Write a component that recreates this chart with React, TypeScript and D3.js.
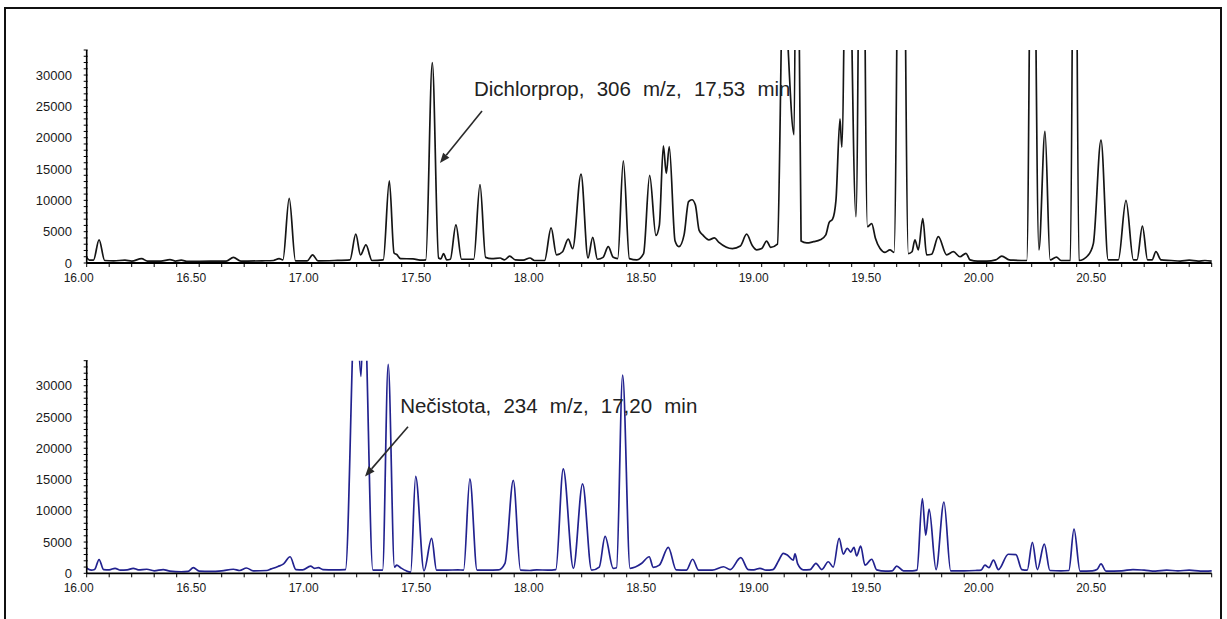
import React from 'react';
import * as d3 from 'd3';

// ---- data ----
const timeLabels = [16.0, 16.5, 17.0, 17.5, 18.0, 18.5, 19.0, 19.5, 20.0, 20.5];
const intensityLabels = [0, 5000, 10000, 15000, 20000, 25000, 30000];

// Chromatogram 1 (306 m/z) : [time min, abundance]
const topTrace: [number, number][] = [
  [16.0, 900], [16.012, 450], [16.03, 450], [16.055, 3700], [16.08, 400], [16.12, 350], [16.17, 450],
  [16.2, 300], [16.244, 700], [16.27, 300], [16.33, 300], [16.37, 550], [16.395, 300], [16.42, 450],
  [16.45, 250], [16.55, 300], [16.62, 300], [16.652, 900], [16.685, 300], [16.78, 350], [16.83, 400],
  [16.855, 700], [16.872, 500], [16.9, 10300], [16.928, 350], [16.98, 350], [17.004, 1300], [17.028, 350],
  [17.1, 400], [17.17, 500], [17.196, 4600], [17.217, 1300], [17.241, 2900], [17.268, 400], [17.318, 500],
  [17.345, 13100], [17.366, 1600], [17.378, 1350], [17.395, 700], [17.45, 650], [17.49, 450], [17.507, 500],
  [17.536, 32000], [17.564, 800], [17.574, 650], [17.586, 1500], [17.6, 500], [17.616, 600], [17.641, 6100],
  [17.666, 600], [17.72, 600], [17.748, 12500], [17.773, 900], [17.8, 700], [17.837, 800], [17.857, 500],
  [17.88, 1100], [17.905, 500], [17.94, 450], [17.97, 800], [17.99, 400], [18.035, 400], [18.064, 5600],
  [18.088, 1300], [18.115, 1800], [18.14, 3800], [18.16, 2300], [18.197, 14200], [18.228, 800],
  [18.249, 4100], [18.27, 600], [18.295, 900], [18.318, 2600], [18.34, 900], [18.36, 700], [18.385, 16300],
  [18.412, 700], [18.445, 500], [18.475, 1500], [18.502, 14000], [18.53, 4400], [18.545, 6000],
  [18.563, 18700], [18.576, 14300], [18.589, 18600], [18.615, 3500], [18.632, 2600], [18.655, 4500],
  [18.675, 9800], [18.69, 10100], [18.705, 9300], [18.722, 5200], [18.74, 4400], [18.765, 3700],
  [18.79, 4000], [18.81, 3300], [18.87, 2300], [18.905, 2700], [18.933, 4600], [18.958, 2800],
  [18.978, 2100], [19.0, 2300], [19.022, 3500], [19.04, 2500], [19.07, 3000], [19.095, 45000],
  [19.144, 20500], [19.156, 80000], [19.175, 3500], [19.2, 3200], [19.23, 3400], [19.26, 3700],
  [19.285, 4500], [19.3, 6500], [19.315, 7000], [19.33, 10000], [19.348, 23000], [19.356, 18500],
  [19.38, 70000], [19.419, 7400], [19.444, 90000], [19.47, 5800], [19.489, 6300], [19.505, 4000],
  [19.526, 2300], [19.548, 1700], [19.57, 2100], [19.588, 1700], [19.62, 100000], [19.652, 1500],
  [19.668, 1800], [19.681, 3700], [19.696, 2100], [19.716, 7100], [19.733, 1300], [19.755, 1400],
  [19.785, 4200], [19.822, 1300], [19.852, 1800], [19.881, 1000], [19.908, 1550], [19.926, 500],
  [19.96, 300], [20.0, 300], [20.04, 500], [20.067, 1100], [20.1, 500], [20.118, 450], [20.178, 400],
  [20.203, 80000], [20.232, 2100], [20.259, 21000], [20.282, 500], [20.31, 950], [20.33, 400],
  [20.372, 400], [20.391, 90000], [20.41, 400], [20.45, 1200], [20.474, 3100], [20.508, 19600],
  [20.54, 500], [20.585, 500], [20.619, 10000], [20.652, 500], [20.668, 500], [20.692, 5900],
  [20.715, 500], [20.735, 500], [20.752, 1800], [20.775, 500], [20.82, 400], [20.86, 300], [20.9, 450],
  [20.94, 300], [20.97, 400], [21.0, 300],
];

// Chromatogram 2 (234 m/z) : [time min, abundance]
const bottomTrace: [number, number][] = [
  [16.0, 800], [16.02, 500], [16.035, 600], [16.055, 2200], [16.075, 600], [16.1, 550], [16.126, 800],
  [16.15, 500], [16.18, 550], [16.207, 800], [16.23, 550], [16.267, 650], [16.3, 400], [16.34, 600],
  [16.37, 350], [16.42, 250], [16.45, 300], [16.474, 900], [16.5, 350], [16.55, 300], [16.6, 400],
  [16.652, 650], [16.68, 450], [16.71, 850], [16.74, 400], [16.8, 450], [16.82, 700], [16.85, 1100],
  [16.875, 1500], [16.904, 2650], [16.93, 600], [16.96, 550], [16.995, 1150], [17.012, 800], [17.03, 900],
  [17.05, 600], [17.1, 550], [17.15, 600], [17.195, 45000], [17.219, 31500], [17.232, 45000],
  [17.272, 500], [17.315, 500], [17.34, 33400], [17.368, 1000], [17.378, 1300], [17.395, 900],
  [17.42, 400], [17.44, 200], [17.462, 15500], [17.499, 400], [17.533, 5570], [17.555, 500],
  [17.6, 500], [17.65, 550], [17.675, 500], [17.703, 15100], [17.735, 500], [17.78, 500], [17.83, 550],
  [17.859, 1600], [17.896, 14850], [17.928, 500], [17.97, 450], [18.0, 550], [18.05, 500], [18.085, 600],
  [18.118, 16700], [18.163, 800], [18.204, 14300], [18.244, 500], [18.278, 1000], [18.304, 5900],
  [18.34, 800], [18.355, 900], [18.382, 31700], [18.415, 800], [18.467, 1600], [18.5, 2650],
  [18.518, 950], [18.545, 1300], [18.585, 4150], [18.62, 550], [18.665, 500], [18.693, 2250],
  [18.72, 500], [18.78, 500], [18.83, 1050], [18.86, 600], [18.907, 2500], [18.94, 600], [18.965, 550],
  [18.992, 800], [19.02, 500], [19.05, 600], [19.075, 2000], [19.096, 3200], [19.115, 2900],
  [19.14, 2100], [19.148, 3100], [19.16, 1500], [19.185, 550], [19.215, 600], [19.241, 1600],
  [19.267, 600], [19.296, 1850], [19.318, 1000], [19.344, 5570], [19.363, 3070], [19.38, 4000],
  [19.396, 3400], [19.41, 4150], [19.422, 2800], [19.44, 4350], [19.459, 1300], [19.489, 2250],
  [19.511, 550], [19.55, 350], [19.58, 400], [19.6, 1150], [19.63, 400], [19.67, 400], [19.69, 500],
  [19.714, 11950], [19.729, 6100], [19.744, 10250], [19.775, 600], [19.81, 11400], [19.84, 400],
  [19.9, 400], [19.95, 450], [19.975, 500], [19.992, 1300], [20.01, 900], [20.03, 2100], [20.052, 600],
  [20.096, 3050], [20.13, 3000], [20.156, 600], [20.18, 500], [20.203, 4950], [20.225, 600],
  [20.256, 4650], [20.281, 450], [20.33, 400], [20.365, 450], [20.388, 7050], [20.415, 350],
  [20.47, 400], [20.49, 600], [20.508, 1500], [20.53, 350], [20.6, 400], [20.65, 600], [20.7, 500],
  [20.75, 350], [20.8, 500], [20.85, 400], [20.9, 500], [20.95, 350], [21.0, 400],
];

const annotationTexts = ['Dichlorprop, 306 m/z, 17,53 min', 'Nečistota, 234 m/z, 17,20 min'];
// [text time, text abundance, arrow-from time, from abundance, arrow-to time, to abundance]
const annotationAnchors: [number, number, number, number, number, number][] = [
  [17.721, 26650, 17.757, 24260, 17.57, 15960],
  [17.393, 25680, 17.428, 23450, 17.237, 15490],
];

const W = 1227;
const H = 619;
const X0 = 86.7;
const X1 = 1211.7;
const TIME_DOMAIN: [number, number] = [16, 21];
const MAX_AB = 34000;

const panels = [
  { baseline: 263, top: 50, data: topTrace, color: '#151515' },
  { baseline: 573.3, top: 360.7, data: bottomTrace, color: '#22228f' },
];

const FONT = '"Liberation Sans", Arial, sans-serif';

export default function App() {
  const x = d3.scaleLinear().domain(TIME_DOMAIN).range([X0, X1]);
  const minorT = d3.range(0, 51).map((i) => 16 + i * 0.1);
  const minorY = d3.range(0, MAX_AB + 1, 1000);
  const fmtT = d3.format('.2f');

  return (
    <svg width={W} height={H} style={{ position: 'absolute', left: 0, top: 0, background: '#fff' }}>
      <rect x={5} y={8} width={1216} height={660} fill="none" stroke="#111" strokeWidth={2} />
      {panels.map((p, pi) => {
        const y = d3.scaleLinear().domain([0, MAX_AB]).range([p.baseline, p.top]);
        const line = d3
          .line<[number, number]>()
          .x((d) => x(d[0]))
          .y((d) => y(d[1]))
          .curve(d3.curveMonotoneX);
        const clipId = `clip${pi}`;
        const ann = annotationAnchors[pi];
        const fx = x(ann[2]);
        const fy = y(ann[3]);
        const tx = x(ann[4]);
        const ty = y(ann[5]);
        const len = Math.hypot(tx - fx, ty - fy);
        const ux = (tx - fx) / len;
        const uy = (ty - fy) / len;
        const hl = 10;
        const hw = 4;
        const bx = tx - ux * hl;
        const by = ty - uy * hl;
        const head = `${tx},${ty} ${bx - uy * hw},${by + ux * hw} ${bx + uy * hw},${by - ux * hw}`;
        return (
          <g key={pi}>
            <defs>
              <clipPath id={clipId}>
                <rect x={X0} y={p.top} width={X1 - X0 + 2} height={p.baseline - p.top + 2} />
              </clipPath>
            </defs>
            <path
              d={line(p.data) || ''}
              fill="none"
              stroke={p.color}
              strokeWidth={1.7}
              strokeLinejoin="round"
              clipPath={`url(#${clipId})`}
            />
            {/* y axis */}
            <line x1={X0} x2={X0} y1={p.top} y2={p.baseline} stroke="#000" strokeWidth={1.6} />
            {minorY.map((v) => (
              <line key={v} x1={X0 - 3} x2={X0 + 1} y1={y(v)} y2={y(v)} stroke="#000" strokeWidth={1} />
            ))}
            {intensityLabels.map((v) => (
              <text
                key={v}
                x={72}
                y={y(v)}
                dy="0.35em"
                textAnchor="end"
                fontFamily={FONT}
                fontSize={13}
                fill="#1a1a1a"
              >
                {v}
              </text>
            ))}
            {/* x axis */}
            <line x1={X0} x2={X1} y1={p.baseline} y2={p.baseline} stroke="#000" strokeWidth={1.8} />
            {minorT.map((t, i) => (
              <line key={i} x1={x(t)} x2={x(t)} y1={p.baseline} y2={p.baseline + 4} stroke="#000" strokeWidth={1} />
            ))}
            {timeLabels.map((t) => (
              <text
                key={t}
                x={x(t) - 8}
                y={p.baseline + 19}
                textAnchor="middle"
                fontFamily={FONT}
                fontSize={12}
                fill="#1a1a1a"
              >
                {fmtT(t)}
              </text>
            ))}
            {/* annotation */}
            <text
              x={x(ann[0])}
              y={y(ann[1])}
              fontFamily={FONT}
              fontSize={20.5}
              wordSpacing={6.5}
              fill="#222"
            >
              {annotationTexts[pi]}
            </text>
            <line x1={fx} y1={fy} x2={bx} y2={by} stroke="#2a2a2a" strokeWidth={1.6} />
            <polygon points={head} fill="#2a2a2a" />
          </g>
        );
      })}
    </svg>
  );
}
